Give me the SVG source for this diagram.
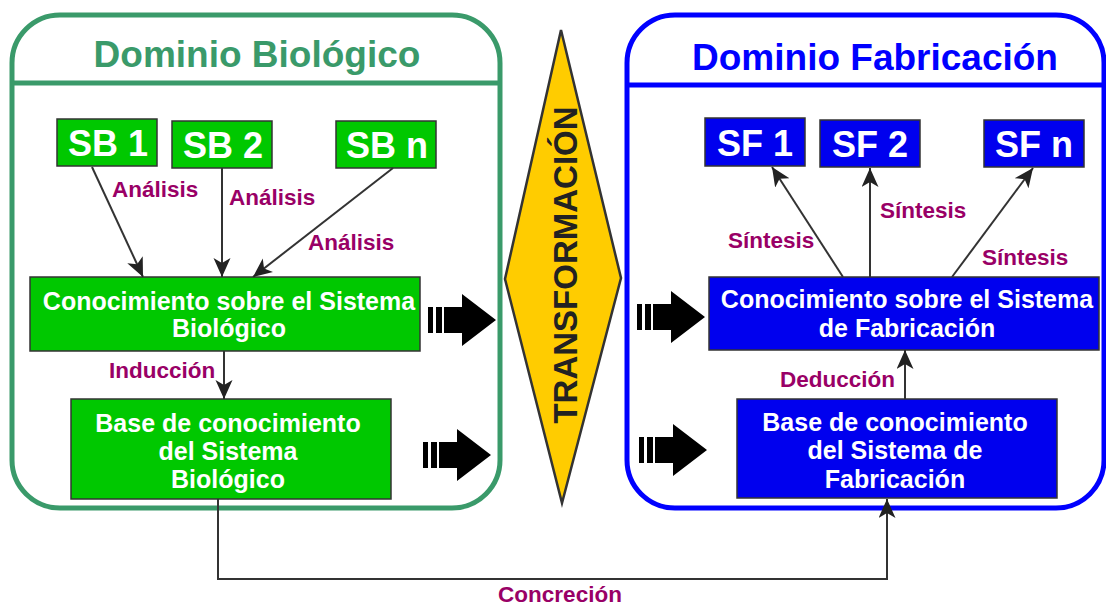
<svg xmlns="http://www.w3.org/2000/svg" width="1106" height="605" viewBox="0 0 1106 605">
<defs>
<style>
text{font-family:"Liberation Sans",Arial,sans-serif;font-weight:bold}
.title{font-size:37px;text-anchor:middle}
.sb{fill:#00c800;stroke:#333;stroke-width:1.5}
.sf{fill:#0000ee;stroke:#333;stroke-width:1.5}
.big{font-size:36px;fill:#fff;text-anchor:middle}
.box{font-size:25px;fill:#fff;text-anchor:middle}
.lbl{font-size:22.5px;fill:#990066}
.con{fill:none;stroke:#333;stroke-width:2}
</style>
<marker id="ah" markerUnits="userSpaceOnUse" markerWidth="20" markerHeight="18" refX="19" refY="8.5" orient="auto">
<path d="M0,0 L19,8.5 L0,17 L5,8.5 z" fill="#222"/>
</marker>
<g id="blockarrow">
<rect x="0" y="13" width="5" height="26" fill="#000"/>
<rect x="8" y="13" width="6" height="26" fill="#000"/>
<polygon points="16,13 34,13 34,0 68,26 34,52 34,39 16,39" fill="#000"/>
</g>
</defs>
<rect width="1106" height="605" fill="#fff"/>

<g id="dominio-biologico">
<rect x="12" y="15" width="488" height="493" rx="48" ry="48" fill="none" stroke="#3a9a6a" stroke-width="5"/>
<line x1="12" y1="83" x2="500" y2="83" stroke="#3a9a6a" stroke-width="5"/>
<text class="title" x="257" y="67" fill="#3a9a6a">Dominio Biológico</text>
</g>

<g id="dominio-fabricacion">
<rect x="627" y="15" width="477" height="493" rx="48" ry="48" fill="none" stroke="#0000ff" stroke-width="5"/>
<line x1="627" y1="85" x2="1104" y2="85" stroke="#0000ff" stroke-width="5"/>
<text class="title" x="875" y="70" fill="#0000ff">Dominio Fabricación</text>
</g>

<g id="transformacion">
<polygon points="561,30 621,278 562,503 505,279" fill="#ffcc00" stroke="#333" stroke-width="2.5"/>
<text x="577" y="265" transform="rotate(-90 577 265)" font-size="33" fill="#222" text-anchor="middle">TRANSFORMACIÓN</text>
</g>

<g id="sb1"><rect class="sb" x="57" y="119" width="100" height="47"/><text class="big" x="108" y="156">SB 1</text></g>
<g id="sb2"><rect class="sb" x="172" y="121" width="100" height="47"/><text class="big" x="223" y="158">SB 2</text></g>
<g id="sbn"><rect class="sb" x="336" y="121" width="100" height="47"/><text class="big" x="387" y="158">SB n</text></g>

<g id="sf1"><rect class="sf" x="705" y="118" width="100" height="48"/><text class="big" x="755" y="156">SF 1</text></g>
<g id="sf2"><rect class="sf" x="820" y="120" width="100" height="47"/><text class="big" x="870" y="157">SF 2</text></g>
<g id="sfn"><rect class="sf" x="984" y="120" width="100" height="47"/><text class="big" x="1034" y="157">SF n</text></g>

<g id="conocimiento-bio">
<rect class="sb" x="30" y="277" width="390" height="74"/>
<text class="box" x="229" y="310">Conocimiento sobre el Sistema</text>
<text class="box" x="229" y="337">Biológico</text>
</g>
<g id="base-bio">
<rect class="sb" x="71" y="399" width="320" height="100"/>
<text class="box" x="228" y="432">Base de conocimiento</text>
<text class="box" x="228" y="460">del Sistema</text>
<text class="box" x="228" y="488">Biológico</text>
</g>

<g id="conocimiento-fab">
<rect class="sf" x="709" y="277" width="390" height="73"/>
<text class="box" x="907" y="308">Conocimiento sobre el Sistema</text>
<text class="box" x="907" y="337">de Fabricación</text>
</g>
<g id="base-fab">
<rect class="sf" x="737" y="399" width="320" height="99"/>
<text class="box" x="895" y="431">Base de conocimiento</text>
<text class="box" x="895" y="459">del Sistema de</text>
<text class="box" x="895" y="488">Fabricación</text>
</g>

<g id="block-arrows">
<use href="#blockarrow" x="428" y="294"/>
<use href="#blockarrow" x="423" y="429"/>
<use href="#blockarrow" x="637" y="291"/>
<use href="#blockarrow" x="639" y="424"/>
</g>

<g id="connectors">
<line class="con" x1="92" y1="167" x2="143" y2="277" marker-end="url(#ah)"/>
<line class="con" x1="222" y1="168" x2="222" y2="277" marker-end="url(#ah)"/>
<line class="con" x1="393" y1="168" x2="253" y2="277" marker-end="url(#ah)"/>
<line class="con" x1="224" y1="351" x2="224" y2="399" marker-end="url(#ah)"/>
<line class="con" x1="843" y1="277" x2="772" y2="167" marker-end="url(#ah)"/>
<line class="con" x1="870" y1="277" x2="870" y2="168" marker-end="url(#ah)"/>
<line class="con" x1="952" y1="277" x2="1033" y2="168" marker-end="url(#ah)"/>
<line class="con" x1="905" y1="399" x2="905" y2="350" marker-end="url(#ah)"/>
<polyline class="con" points="218,499 218,579 887,579 887,499" marker-end="url(#ah)"/>
</g>

<g id="labels">
<text class="lbl" x="112" y="197">Análisis</text>
<text class="lbl" x="229" y="205">Análisis</text>
<text class="lbl" x="308" y="250">Análisis</text>
<text class="lbl" x="109" y="378">Inducción</text>
<text class="lbl" x="728" y="248">Síntesis</text>
<text class="lbl" x="880" y="218">Síntesis</text>
<text class="lbl" x="982" y="265">Síntesis</text>
<text class="lbl" x="780" y="387">Deducción</text>
<text class="lbl" x="560" y="602" text-anchor="middle">Concreción</text>
</g>
</svg>
